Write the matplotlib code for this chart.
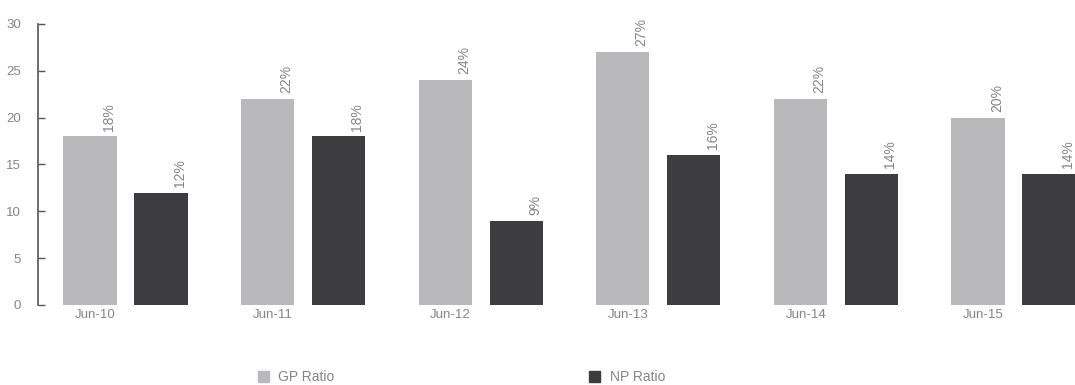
import numpy as np
import matplotlib.pyplot as plt
from matplotlib.patches import Patch

# Ratio data per year-end
periods = ['Jun-10', 'Jun-11', 'Jun-12', 'Jun-13', 'Jun-14', 'Jun-15']
gp_ratio = [18, 22, 24, 27, 22, 20]
np_ratio = [12, 18, 9, 16, 14, 14]

GP_COLOR = '#b9b9bb'
NP_COLOR = '#3d3d3f'
TEXT_COLOR = '#858585'

plt.rcParams['font.family'] = ['Liberation Sans', 'DejaVu Sans']

fig = plt.figure(figsize=(10.75, 3.85), dpi=100)
ax = fig.add_axes([0.0353, 0.208, 0.9647, 0.730])

x = np.arange(len(periods))
width = 0.30
offset = 0.40

gp_bars = ax.bar(x, gp_ratio, width, color=GP_COLOR)
np_bars = ax.bar(x + offset, np_ratio, width, color=NP_COLOR)

# rotated percentage labels above each bar
for bars, vals in [(gp_bars, gp_ratio), (np_bars, np_ratio)]:
    for b, v in zip(bars, vals):
        ax.text(b.get_x() + b.get_width() - 0.005, v + 0.6, f'{v}%',
                rotation=90, ha='right', va='bottom',
                fontsize=10, color=TEXT_COLOR)

ax.set_xlim(-0.293, 5.546)
ax.set_ylim(0, 30)
ax.set_yticks(range(0, 31, 5))
ax.set_xticks(x + 0.03)
ax.set_xticklabels(periods)

for side in ['top', 'right', 'bottom']:
    ax.spines[side].set_visible(False)
ax.spines['left'].set_color('#555555')
ax.spines['left'].set_linewidth(1.2)

ax.tick_params(axis='y', direction='in', length=5, width=1, color='#555555',
               labelsize=9.5, labelcolor=TEXT_COLOR, pad=12)
ax.tick_params(axis='x', length=0, labelsize=9.5, labelcolor=TEXT_COLOR, pad=3)

handles = [Patch(color=GP_COLOR, label='GP Ratio'),
           Patch(color=NP_COLOR, label='NP Ratio')]
fig.legend(handles=handles, loc='lower left', bbox_to_anchor=(0.228, -0.03),
           ncol=2, frameon=False, fontsize=10, labelcolor=TEXT_COLOR,
           handlelength=0.8, handleheight=0.8, handletextpad=0.7,
           columnspacing=18.3)

fig.savefig('out.png', dpi=100)
